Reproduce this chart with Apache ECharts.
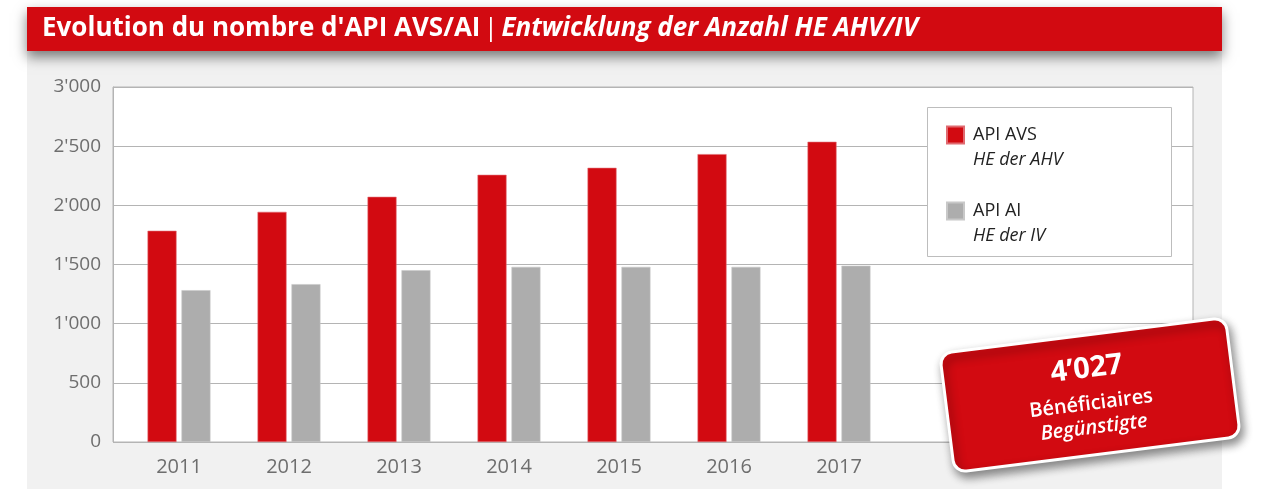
<!DOCTYPE html>
<html>
<head>
    <meta charset="utf-8">
    <title>API AVS/AI</title>
    <script src="https://cdn.jsdelivr.net/npm/echarts@6/dist/echarts.min.js"></script>
    <style>
        html, body { margin: 0; padding: 0; background: #fff; }
        #main { width: 1262px; height: 489px; }
    </style>
</head>
<body>
    <div id="main"></div>
    <script type="text/javascript">
        // categories + values
        var years = ['2011', '2012', '2013', '2014', '2015', '2016', '2017', '', '', ''];
        var avsValues = [1785, 1945, 2072, 2258, 2317, 2433, 2537];
        var aiValues = [1283, 1334, 1452, 1480, 1480, 1480, 1490];
        var yTicks = [0, 500, 1000, 1500, 2000, 2500, 3000];
        var totalLabel = '4’027';

        var RED = '#d20a11';
        var GREY = '#adadad';
        var FONT = 'Open Sans';

        function fmt(v) {
            return String(v).replace(/\B(?=(\d{3})+(?!\d))/g, "'");
        }

        var myChart = echarts.init(document.getElementById('main'));

        var option = {
            animation: false,
            backgroundColor: '#fff',
            textStyle: { fontFamily: FONT },
            graphic: [
                // grey panel behind the chart
                { type: 'rect', z: -10, shape: { x: 27, y: 50, width: 1195, height: 439 },
                  style: { fill: '#f1f1f1' } },
                // title bar
                { type: 'rect', z: 5, shape: { x: 27, y: 7, width: 1195, height: 44 },
                  style: { fill: RED, shadowBlur: 12, shadowOffsetY: 6, shadowColor: 'rgba(0,0,0,0.5)' } },
                { type: 'text', z: 6, x: 42, y: 29,
                  style: {
                      text: "{a|Evolution du nombre d'API AVS/AI} {s||} {b|Entwicklung der Anzahl HE AHV/IV}",
                      verticalAlign: 'middle',
                      rich: {
                          a: { fill: '#fff', fontFamily: FONT, fontWeight: 'bold', fontSize: 26 },
                          s: { fill: '#fff', fontFamily: FONT, fontWeight: 'normal', fontSize: 26 },
                          b: { fill: '#fff', fontFamily: FONT, fontWeight: 'bold', fontStyle: 'italic', fontSize: 26 }
                      }
                  } },
                // legend frame
                { type: 'rect', z: 3, shape: { x: 927.5, y: 107.5, width: 244, height: 149 },
                  style: { fill: '#fff', stroke: '#bdbdbd', lineWidth: 1 } },
                // badge
                { type: 'group', x: 1090, y: 395, rotation: 0.125, z: 100,
                  children: [
                      { type: 'rect', z: 100, shape: { x: -144, y: -60, width: 288, height: 120, r: 12 },
                        style: { fill: RED, stroke: '#fff', lineWidth: 3,
                                 shadowBlur: 10, shadowOffsetX: 3, shadowOffsetY: 5, shadowColor: 'rgba(0,0,0,0.45)' } },
                      { type: 'text', z: 101, x: 0, y: -26,
                        style: { text: totalLabel, fill: '#fff', fontFamily: FONT, fontWeight: 'bold', fontSize: 29,
                                 align: 'center', verticalAlign: 'middle' } },
                      { type: 'text', z: 101, x: 0, y: 9,
                        style: { text: 'Bénéficiaires', fill: '#fff', fontFamily: FONT, fontWeight: 600, fontSize: 20,
                                 align: 'center', verticalAlign: 'middle' } },
                      { type: 'text', z: 101, x: 0, y: 33,
                        style: { text: 'Begünstigte', fill: '#fff', fontFamily: FONT, fontWeight: 600, fontStyle: 'italic', fontSize: 20,
                                 align: 'center', verticalAlign: 'middle' } }
                  ] }
            ],
            legend: {
                orient: 'vertical',
                left: 946,
                top: 101,
                padding: 0,
                itemGap: 8,
                itemWidth: 17,
                itemHeight: 17,
                icon: 'rect',
                z: 4,
                data: ['API AVS', 'API AI'],
                formatter: function (name) {
                    var sub = name === 'API AVS' ? 'HE der AHV' : 'HE der IV';
                    return '{e| }\n{a|' + name + '}\n{b|' + sub + '}';
                },
                textStyle: {
                    padding: [0, 0, 0, 4],
                    rich: {
                        e: { fontSize: 18, lineHeight: 25, color: '#222' },
                        a: { fontSize: 18, lineHeight: 25, color: '#222', fontFamily: FONT },
                        b: { fontSize: 18, lineHeight: 25, color: '#222', fontFamily: FONT, fontStyle: 'italic' }
                    }
                }
            },
            grid: [
                // visible frame, y axis + split lines
                { left: 113, top: 87, width: 1080, height: 355, show: true,
                  backgroundColor: '#fff', borderColor: '#b4b4b4', borderWidth: 1 },
                // bars
                { left: 124, top: 87, width: 1100, height: 355 }
            ],
            xAxis: [
                { type: 'category', gridIndex: 0, data: years, show: false },
                { type: 'category', gridIndex: 1, data: years,
                  axisLine: { show: false }, axisTick: { show: false },
                  axisLabel: { color: '#6e6e6e', fontSize: 20, margin: 15, fontFamily: FONT } }
            ],
            yAxis: [
                { type: 'value', gridIndex: 0, min: yTicks[0], max: yTicks[yTicks.length - 1], interval: 500,
                  axisLine: { show: true, lineStyle: { color: '#b4b4b4' } },
                  axisTick: { show: false },
                  splitLine: { lineStyle: { color: '#b4b4b4', width: 1 } },
                  axisLabel: { color: '#6e6e6e', fontSize: 19, margin: 12, fontFamily: FONT, formatter: fmt } },
                { type: 'value', gridIndex: 1, min: yTicks[0], max: yTicks[yTicks.length - 1], interval: 500,
                  show: false, splitLine: { show: false } }
            ],
            series: [
                { name: 'API AVS', type: 'bar', xAxisIndex: 1, yAxisIndex: 1,
                  data: avsValues, barWidth: 29, barGap: '17%',
                  itemStyle: { color: RED, borderColor: '#e06a70', borderWidth: 0.6 } },
                { name: 'API AI', type: 'bar', xAxisIndex: 1, yAxisIndex: 1,
                  data: aiValues, barWidth: 29,
                  itemStyle: { color: GREY, borderColor: '#c8c8c8', borderWidth: 0.6 } }
            ]
        };

        myChart.setOption(option);
    </script>
</body>
</html>
